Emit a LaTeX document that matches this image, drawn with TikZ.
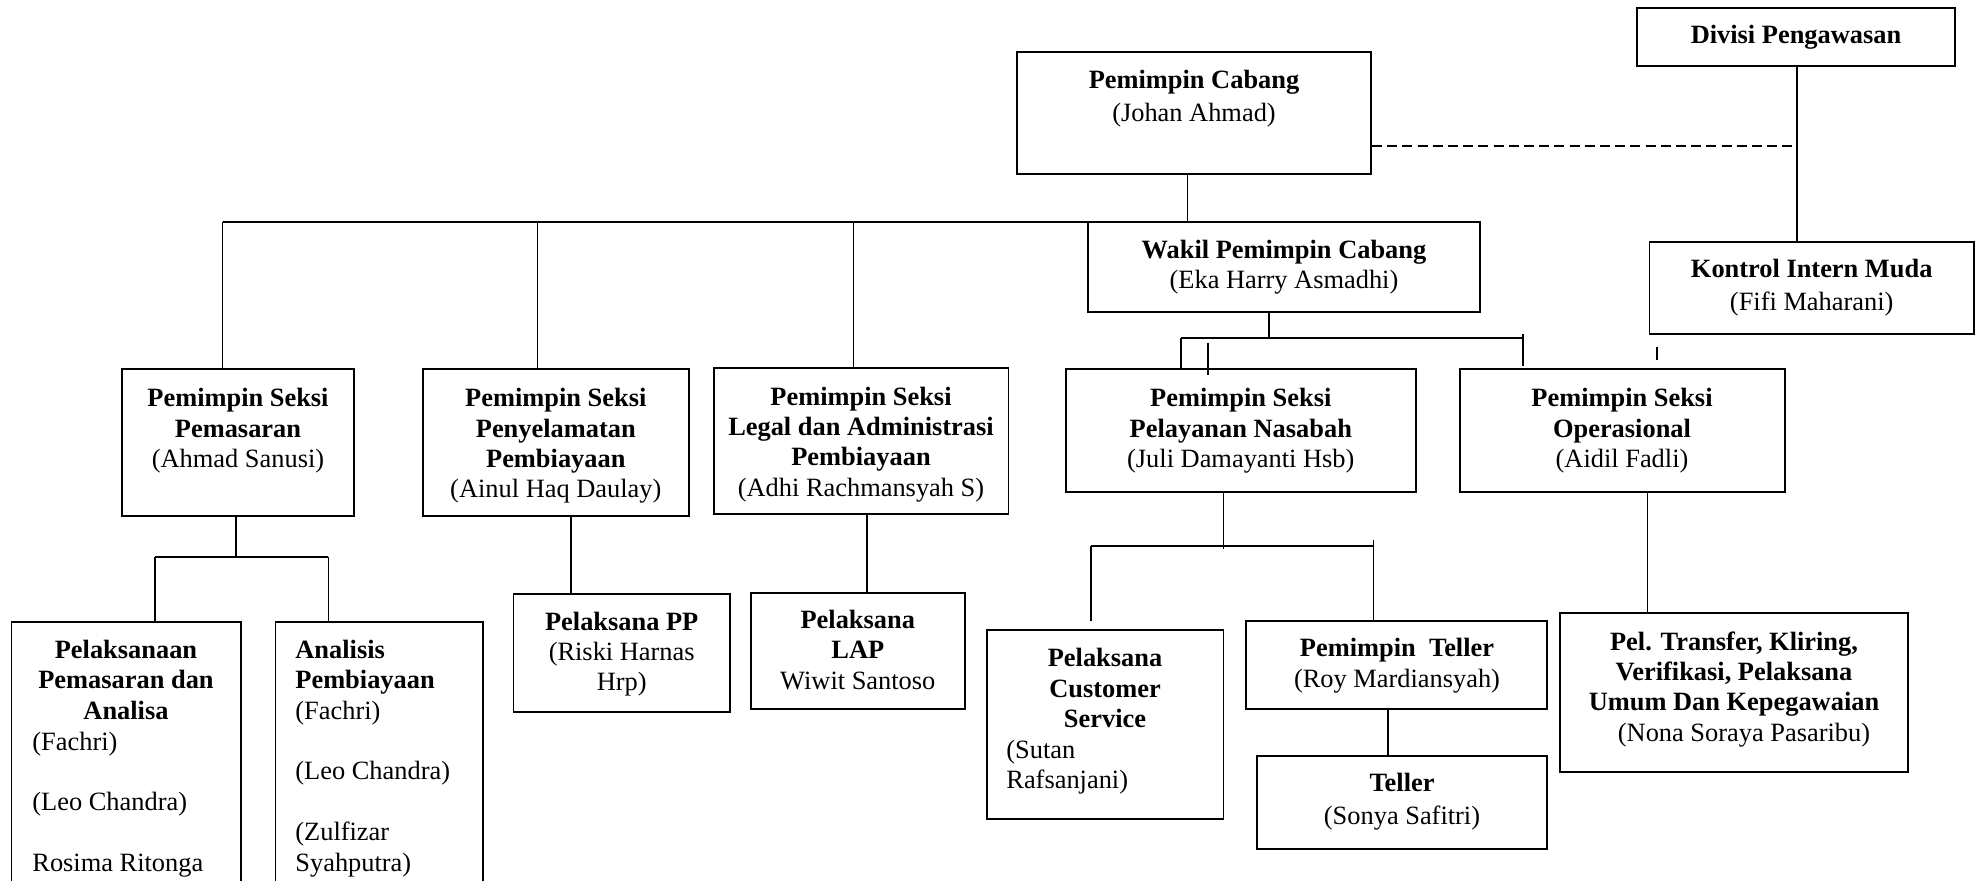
\documentclass[tikz,border=0pt]{standalone}
\usepackage{fontspec}
\setmainfont{Liberation Serif}
\usetikzlibrary{fit,calc}
\begin{document}
\begin{tikzpicture}[x=0.5pt,y=-0.5pt,
  box/.style={draw, line width=0.9pt, inner sep=0pt, rectangle},
  txt/.style={anchor=north, inner sep=0pt, align=center, font=\fontsize{13.2}{15.2}\selectfont},
  txtl/.style={anchor=north west, inner sep=0pt, align=left, font=\fontsize{13.2}{15.2}\selectfont},
  conn/.style={line width=0.75pt},
  bus/.style={line width=0.9pt}]
\useasboundingbox (0,0) rectangle (1984,881);
\clip (0,0) rectangle (1984,881);

% boxes
\node[box, fit={(1637,7.7) (1955,65.7)}] (div) {};
\node[box, fit={(1017,51.7) (1371,173.7)}] (pc) {};
\node[box, fit={(1649.5,242.3) (1974,334.3)}] (kon) {};
\node[box, fit={(1088,221.7) (1480,312.3)}] (wakil) {};
\node[box, fit={(121.8,369.3) (354,515.7)}] (spem) {};
\node[box, fit={(422.8,369.3) (688.8,515.7)}] (speny) {};
\node[box, fit={(713.6,367.7) (1008.5,514)}] (slegal) {};
\node[box, fit={(1066,369.3) (1415.6,492.3)}] (spel) {};
\node[box, fit={(1460,369.3) (1784.7,492.3)}] (sops) {};
\node[box, fit={(11.5,622) (241,900)}] (plk) {};
\node[box, fit={(275.5,622) (482.8,900)}] (ana) {};
\node[box, fit={(513.4,594) (730,711.7)}] (pp) {};
\node[box, fit={(750.6,592.7) (965,709.3)}] (lap) {};
\node[box, fit={(987,630.3) (1223.4,819.3)}] (cs) {};
\node[box, fit={(1246,620.7) (1547.2,709.3)}] (ptel) {};
\node[box, fit={(1256.7,755.7) (1547.2,849)}] (tel) {};
\node[box, fit={(1559.8,612.7) (1908,771.7)}] (ptr) {};

% texts
\node[txt] (div-t) at (1796,21.7) {\strut\textbf{Divisi Pengawasan}};
\node[txt] (pc-t) at (1194,66.7) {\strut\textbf{Pemimpin Cabang}\\[1.3pt](Johan Ahmad)};
\node[txt] (kon-t) at (1811.7,256) {\strut\textbf{Kontrol Intern Muda}\\[1pt](Fifi Maharani)};
\node[txt] (wakil-t) at (1284,236.7) {\strut\textbf{Wakil Pemimpin Cabang}\\(Eka Harry Asmadhi)};
\node[txt] (spem-t) at (238,385) {\strut\textbf{Pemimpin Seksi}\\\textbf{Pemasaran}\\(Ahmad Sanusi)};
\node[txt] (speny-t) at (555.8,385) {\strut\textbf{Pemimpin Seksi}\\\textbf{Penyelamatan}\\\textbf{Pembiayaan}\\(Ainul Haq Daulay)};
\node[txt] (slegal-t) at (861,383.4) {\strut\textbf{Pemimpin Seksi}\\\textbf{Legal dan Administrasi}\\\textbf{Pembiayaan}\\(Adhi Rachmansyah S)};
\node[txt] (spel-t) at (1240.8,385) {\strut\textbf{Pemimpin Seksi}\\\textbf{Pelayanan Nasabah}\\(Juli Damayanti Hsb)};
\node[txt] (sops-t) at (1622,385) {\strut\textbf{Pemimpin Seksi}\\\textbf{Operasional}\\(Aidil Fadli)};
\node[txt] (plk-t) at (126,636.7) {\strut\textbf{Pelaksanaan}\\\textbf{Pemasaran dan}\\\textbf{Analisa}};
\node[txtl] (plk-n) at (32,728.4) {\strut(Fachri)\\[15.2pt](Leo Chandra)\\[15.2pt]Rosima Ritonga};
\node[txtl] (ana-t) at (295,636.7) {\strut\textbf{Analisis}\\\textbf{Pembiayaan}\\(Fachri)\\[15.2pt](Leo Chandra)\\[15.2pt](Zulfizar\\Syahputra)};
\node[txt] (pp-t) at (621.7,608.4) {\strut\textbf{Pelaksana PP}\\(Riski Harnas\\Hrp)};
\node[txt] (lap-t) at (857.8,606.7) {\strut\textbf{Pelaksana}\\\textbf{LAP}\\Wiwit Santoso};
\node[txt] (cs-t) at (1105,645) {\strut\textbf{Pelaksana}\\\textbf{Customer}\\\textbf{Service}};
\node[txtl] (cs-n) at (1006,736.7) {\strut(Sutan\\Rafsanjani)};
\node[txt] (ptel-t) at (1397,635) {\strut\textbf{Pemimpin\ \ Teller}\\(Roy Mardiansyah)};
\node[txt] (tel-t) at (1402,770) {\strut\textbf{Teller}\\[1.3pt](Sonya Safitri)};
\node[txt] (ptr-t) at (1734,628.4) {\strut\textbf{Pel. Transfer, Kliring,}\\\textbf{Verifikasi, Pelaksana}\\\textbf{Umum Dan Kepegawaian}\\\hspace*{10pt}(Nona Soraya Pasaribu)};

% connectors: top
\coordinate (pcj) at (1187.6,173.7);
\draw[conn] (pcj) -- (pcj |- wakil.north);
\coordinate (d1) at (222.6,221.7);
\coordinate (d2) at (537.6,221.7);
\coordinate (d3) at (853.3,221.7);
\draw[bus] (d1) -- (d1 -| wakil.west);
\draw[conn] (d1) -- (d1 |- spem.north);
\draw[conn] (d2) -- (d2 |- speny.north);
\draw[conn] (d3) -- (d3 |- slegal.north);
\coordinate (dv) at (1797,145.7);
\draw[line width=0.9pt, dash pattern=on 5pt off 2.6pt] (dv -| pc.east) -- (dv);
\coordinate (dvt) at (1797,65.7);
\draw[conn] (dvt) -- (dvt |- kon.north);
\coordinate (tk1) at (1657,347);
\coordinate (tk2) at (1657,360);
\draw[conn] (tk1) -- (tk2);

% wakil subtree
\coordinate (wj) at (1269,338);
\draw[conn] (wj |- wakil.south) -- (wj);
\coordinate (wl) at (1181,338);
\coordinate (wr) at (1523,338);
\draw[bus] (wl) -- (wr);
\draw[conn] (wl) -- (wl |- spel.north);
\coordinate (ws1) at (1208,343);
\coordinate (ws2) at (1208,375);
\draw[conn] (ws1) -- (ws2);
\coordinate (wrt) at (1523,334);
\coordinate (wrb) at (1523,366);
\draw[conn] (wrt) -- (wrb);

% pemasaran subtree
\coordinate (pj) at (236,556.7);
\draw[conn] (pj |- spem.south) -- (pj);
\coordinate (pl) at (155,556.7);
\coordinate (pr) at (328.4,556.7);
\draw[bus] (pl) -- (pr);
\draw[conn] (pl) -- (pl |- plk.north);
\draw[conn] (pr) -- (pr |- ana.north);

% PP and LAP
\coordinate (ppj) at (570.8,515.7);
\draw[conn] (ppj |- speny.south) -- (ppj |- pp.north);
\coordinate (lj) at (867,514);
\draw[conn] (lj |- slegal.south) -- (lj |- lap.north);

% pelayanan subtree
\coordinate (nj) at (1223.4,549.3);
\draw[conn] (nj |- spel.south) -- (nj);
\coordinate (nl) at (1091,545.7);
\coordinate (nr) at (1373.4,545.7);
\draw[bus] (nl) -- (nr);
\coordinate (nlb) at (1091,621);
\draw[conn] (nl) -- (nlb);
\coordinate (nrt) at (1373.4,540);
\draw[conn] (nrt) -- (nrt |- ptel.north);
\coordinate (tj) at (1387.8,709.3);
\draw[conn] (tj |- ptel.south) -- (tj |- tel.north);

% operasional
\coordinate (oj) at (1647.6,492.3);
\draw[conn] (oj |- sops.south) -- (oj |- ptr.north);
\end{tikzpicture}
\end{document}
